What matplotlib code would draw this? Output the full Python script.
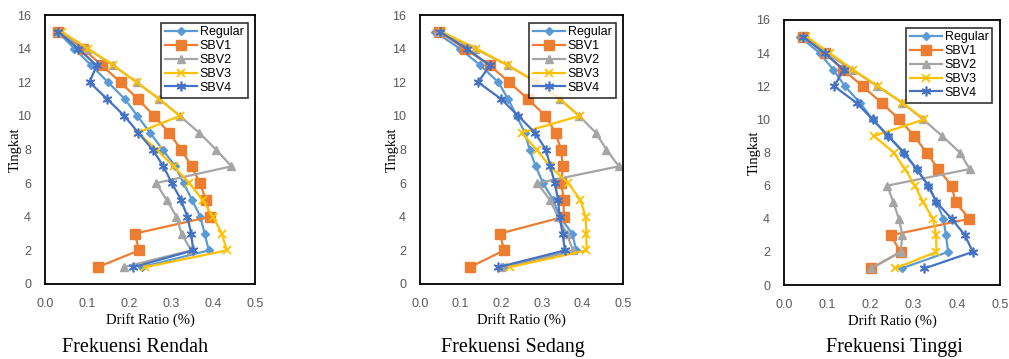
import matplotlib.pyplot as plt
import numpy as np

plt.rcParams['font.family'] = ['Liberation Sans Narrow', 'Liberation Sans', 'DejaVu Sans']

lantai = np.arange(1, 16)
seri = ['Regular', 'SBV1', 'SBV2', 'SBV3', 'SBV4']
judul = ['Frekuensi Rendah', 'Frekuensi Sedang', 'Frekuensi Tinggi']

# drift ratio per lantai 1..15
rendah = {
    'Regular': [0.23, 0.39, 0.38, 0.37, 0.35, 0.33, 0.31, 0.28, 0.25, 0.22, 0.19, 0.15, 0.11, 0.07, 0.03],
    'SBV1': [0.125, 0.224, 0.214, 0.393, 0.383, 0.369, 0.349, 0.324, 0.295, 0.26, 0.221, 0.18, 0.135, 0.091, 0.032],
    'SBV2': [0.187, 0.348, 0.325, 0.313, 0.29, 0.264, 0.444, 0.407, 0.367, 0.321, 0.272, 0.218, 0.163, 0.10, 0.03],
    'SBV3': [0.238, 0.433, 0.421, 0.40, 0.375, 0.344, 0.306, 0.266, 0.221, 0.321, 0.272, 0.218, 0.163, 0.103, 0.04],
    'SBV4': [0.21, 0.353, 0.348, 0.339, 0.324, 0.302, 0.282, 0.256, 0.222, 0.189, 0.148, 0.106, 0.123, 0.079, 0.032],
}
sedang = {
    'Regular': [0.205, 0.385, 0.375, 0.344, 0.328, 0.303, 0.285, 0.27, 0.258, 0.238, 0.217, 0.193, 0.149, 0.098, 0.037],
    'SBV1': [0.123, 0.207, 0.197, 0.354, 0.354, 0.348, 0.352, 0.347, 0.334, 0.309, 0.266, 0.22, 0.172, 0.11, 0.048],
    'SBV2': [0.20, 0.377, 0.361, 0.34, 0.32, 0.289, 0.49, 0.459, 0.433, 0.392, 0.344, 0.287, 0.217, 0.135, 0.045],
    'SBV3': [0.221, 0.41, 0.41, 0.408, 0.395, 0.365, 0.32, 0.287, 0.25, 0.393, 0.344, 0.287, 0.217, 0.139, 0.053],
    'SBV4': [0.193, 0.357, 0.351, 0.344, 0.34, 0.332, 0.321, 0.31, 0.283, 0.242, 0.20, 0.143, 0.172, 0.115, 0.049],
}
tinggi = {
    'Regular': [0.272, 0.38, 0.375, 0.369, 0.353, 0.334, 0.307, 0.276, 0.241, 0.205, 0.176, 0.141, 0.114, 0.083, 0.036],
    'SBV1': [0.202, 0.27, 0.247, 0.429, 0.397, 0.388, 0.357, 0.33, 0.301, 0.267, 0.226, 0.182, 0.137, 0.094, 0.044],
    'SBV2': [0.201, 0.27, 0.274, 0.266, 0.253, 0.239, 0.43, 0.407, 0.366, 0.322, 0.274, 0.216, 0.158, 0.098, 0.044],
    'SBV3': [0.257, 0.353, 0.352, 0.345, 0.322, 0.303, 0.28, 0.254, 0.208, 0.325, 0.274, 0.218, 0.16, 0.106, 0.052],
    'SBV4': [0.325, 0.437, 0.419, 0.388, 0.353, 0.334, 0.307, 0.278, 0.241, 0.205, 0.168, 0.116, 0.138, 0.094, 0.044],
}

gaya = {
    'Regular': dict(color='#5B9BD5', marker='D', ms=4.5),
    'SBV1': dict(color='#ED7D31', marker='s', ms=7),
    'SBV2': dict(color='#A5A5A5', marker='^', ms=6),
    'SBV3': dict(color='#FFC000', marker='x', ms=6, mew=1.3),
    'SBV4': dict(color='#4472C4', marker=(6, 2, 0), ms=7, mew=1.2),
}

W, H = 1009, 359
fig = plt.figure(figsize=(W / 100, H / 100), dpi=100)
posisi = [
    [45 / W, 1 - 284 / H, 210 / W, 269 / H],
    [420 / W, 1 - 284 / H, 203 / W, 269 / H],
    [784 / W, 1 - 285 / H, 216 / W, 265 / H],
]
pusat_judul = [135, 513, 894]
jarak_ylabel = [30, 28, 30]

for pos, data, jd, px, dy in zip(posisi, [rendah, sedang, tinggi], judul, pusat_judul, jarak_ylabel):
    ax = fig.add_axes(pos)
    for s in seri:
        ax.plot(data[s], lantai, lw=1.6, label=s, **gaya[s])
    ax.set_xlim(0, 0.5)
    ax.set_ylim(0, 16)
    ax.set_xticks(np.arange(0, 0.51, 0.1))
    ax.set_xticklabels(['%.1f' % v for v in np.arange(0, 0.51, 0.1)])
    ax.set_yticks(np.arange(0, 17, 2))
    ax.tick_params(length=0, labelsize=9, labelcolor='#595959')
    ax.tick_params(axis='x', pad=10)
    ax.tick_params(axis='y', pad=10)
    for sp in ax.spines.values():
        sp.set_linewidth(1.3)
        sp.set_color('black')
    ax.set_ylabel('Tingkat', family='Liberation Serif', fontsize=10.5, va='center')
    ax.yaxis.set_label_coords(-dy / (pos[2] * W), 0.5)
    ax.set_xlabel('Drift Ratio (%)', family='Liberation Serif', fontsize=10.5, labelpad=2)
    fig.text(px / W, 1 - 352 / H, jd, ha='center', va='baseline',
             family='Liberation Serif', fontsize=14.5)
    leg = ax.legend(loc='upper right', fontsize=9, frameon=True, fancybox=False,
                    borderpad=0.3, labelspacing=0.15, handlelength=2.6,
                    handletextpad=0.2, borderaxespad=0.6)
    leg.get_frame().set_edgecolor('black')
    leg.get_frame().set_linewidth(1.2)

fig.savefig('out.png', dpi=100)
